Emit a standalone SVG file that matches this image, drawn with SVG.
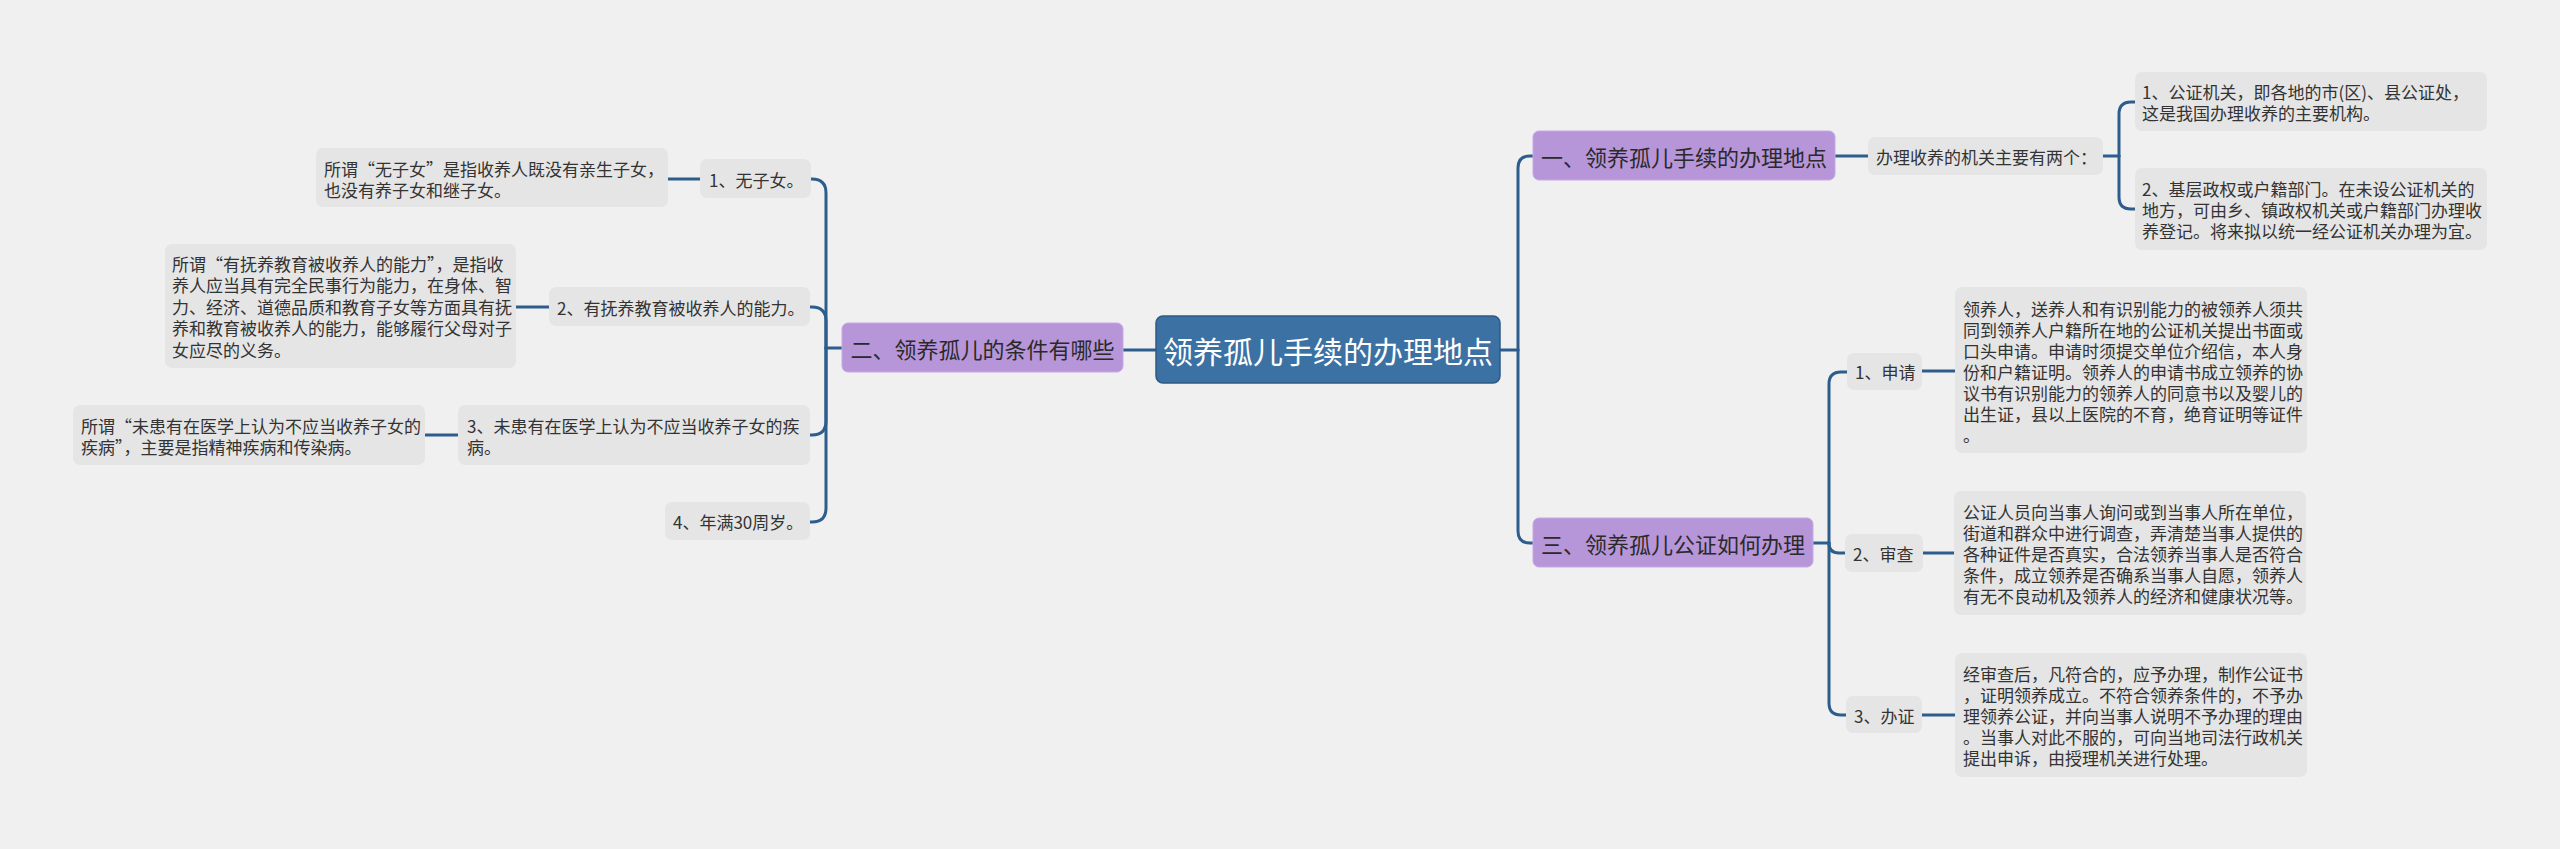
<svg xmlns="http://www.w3.org/2000/svg" width="2560" height="849" viewBox="0 0 2560 849">
<style>
.bg{fill:#f0f0f0}
.root rect{fill:#3c71a3;stroke:#2d5985;stroke-width:1.5}
.root text{fill:#ffffff;font-size:30px;text-anchor:middle}
.sec rect{fill:#b795d9;stroke:#c5a9e4;stroke-width:1}
.sec text{fill:#2a2a2a;font-size:22px;text-anchor:middle}
.leaf rect{fill:#e5e5e5}
.leaf text{fill:#333333;font-size:17px}
text{font-family:"Microsoft YaHei","Noto Sans CJK SC",sans-serif;dominant-baseline:central}
.conn path{fill:none;stroke:#2d5d8c;stroke-width:3;stroke-linecap:round}
</style>
<rect class="bg" x="0" y="0" width="2560" height="849"/>
<g class="conn">
<path d="M1156,350 H1123"/>
<path d="M1500,350 H1518"/>
<path d="M842,348 H826"/>
<path d="M826,348 V193 Q826,179 812,179 H811"/>
<path d="M826,348 V321 Q826,307 812,307 H810"/>
<path d="M826,348 V421 Q826,435 812,435 H810"/>
<path d="M826,348 V508 Q826,522 812,522 H810"/>
<path d="M668,179 H700"/>
<path d="M516,307 H549"/>
<path d="M425,435 H458"/>
<path d="M1518,350 V168 Q1518,156 1530,156 H1533"/>
<path d="M1518,350 V531 Q1518,543 1530,543 H1533"/>
<path d="M1835,156 H1868"/>
<path d="M2103,156 H2119"/>
<path d="M2119,156 V114 Q2119,102 2131,102 H2135"/>
<path d="M2119,156 V197 Q2119,209 2131,209 H2135"/>
<path d="M1813,543 H1829"/>
<path d="M1829,543 V384 Q1829,372 1841,372 H1847"/>
<path d="M1829,543 Q1829,553 1839,553 H1845"/>
<path d="M1829,543 V703 Q1829,715 1841,715 H1846"/>
<path d="M1922,371 H1955"/>
<path d="M1923,553 H1954"/>
<path d="M1922,715 H1955"/>
</g>
<g id="root" class="root">
<rect x="1156" y="316" width="344" height="67" rx="7"/>
<text x="1328" y="350">领养孤儿手续的办理地点</text>
</g>
<g id="sec2" class="sec">
<rect x="842" y="323" width="281" height="49" rx="6"/>
<text x="982.5" y="348">二、领养孤儿的条件有哪些</text>
</g>
<g id="l1" class="leaf">
<rect x="700" y="159" width="111" height="39" rx="7"/>
<text x="709" y="179">1、无子女。</text>
</g>
<g id="l1d" class="leaf">
<rect x="316" y="148" width="352" height="59" rx="7"/>
<text x="324" y="168">所谓“无子女”是指收养人既没有亲生子女，</text>
<text x="324" y="189">也没有养子女和继子女。</text>
</g>
<g id="l2" class="leaf">
<rect x="549" y="287" width="261" height="39" rx="7"/>
<text x="557" y="307">2、有抚养教育被收养人的能力。</text>
</g>
<g id="l2d" class="leaf">
<rect x="165" y="244" width="351" height="124" rx="7"/>
<text x="172" y="263">所谓“有抚养教育被收养人的能力”，是指收</text>
<text x="172" y="284.5">养人应当具有完全民事行为能力，在身体、智</text>
<text x="172" y="306">力、经济、道德品质和教育子女等方面具有抚</text>
<text x="172" y="327.5">养和教育被收养人的能力，能够履行父母对子</text>
<text x="172" y="349">女应尽的义务。</text>
</g>
<g id="l3" class="leaf">
<rect x="458" y="405" width="352" height="60" rx="7"/>
<text x="467" y="425">3、未患有在医学上认为不应当收养子女的疾</text>
<text x="467" y="446">病。</text>
</g>
<g id="l3d" class="leaf">
<rect x="73" y="405" width="352" height="60" rx="7"/>
<text x="81" y="425">所谓“未患有在医学上认为不应当收养子女的</text>
<text x="81" y="446">疾病”，主要是指精神疾病和传染病。</text>
</g>
<g id="l4" class="leaf">
<rect x="665" y="502" width="145" height="38" rx="7"/>
<text x="673" y="521">4、年满30周岁。</text>
</g>
<g id="sec1" class="sec">
<rect x="1533" y="131" width="302" height="49" rx="6"/>
<text x="1684" y="156">一、领养孤儿手续的办理地点</text>
</g>
<g id="r1" class="leaf">
<rect x="1868" y="137" width="235" height="38" rx="7"/>
<text x="1876" y="156">办理收养的机关主要有两个：</text>
</g>
<g id="r1a" class="leaf">
<rect x="2135" y="72" width="352" height="59" rx="7"/>
<text x="2142" y="91.5">1、公证机关，即各地的市(区)、县公证处，</text>
<text x="2142" y="112.5">这是我国办理收养的主要机构。</text>
</g>
<g id="r1b" class="leaf">
<rect x="2135" y="168" width="352" height="82" rx="7"/>
<text x="2142" y="188">2、基层政权或户籍部门。在未设公证机关的</text>
<text x="2142" y="209">地方，可由乡、镇政权机关或户籍部门办理收</text>
<text x="2142" y="230">养登记。将来拟以统一经公证机关办理为宜。</text>
</g>
<g id="sec3" class="sec">
<rect x="1533" y="518" width="280" height="49" rx="6"/>
<text x="1673" y="543">三、领养孤儿公证如何办理</text>
</g>
<g id="s1" class="leaf">
<rect x="1847" y="353" width="75" height="37" rx="7"/>
<text x="1855" y="371">1、申请</text>
</g>
<g id="s1d" class="leaf">
<rect x="1955" y="287" width="352" height="166" rx="7"/>
<text x="1963" y="308">领养人，送养人和有识别能力的被领养人须共</text>
<text x="1963" y="329">同到领养人户籍所在地的公证机关提出书面或</text>
<text x="1963" y="350">口头申请。申请时须提交单位介绍信，本人身</text>
<text x="1963" y="371">份和户籍证明。领养人的申请书成立领养的协</text>
<text x="1963" y="392">议书有识别能力的领养人的同意书以及婴儿的</text>
<text x="1963" y="413">出生证，县以上医院的不育，绝育证明等证件</text>
<text x="1963" y="434">。</text>
</g>
<g id="s2" class="leaf">
<rect x="1845" y="534" width="78" height="38" rx="7"/>
<text x="1853" y="553">2、审查</text>
</g>
<g id="s2d" class="leaf">
<rect x="1954" y="491" width="352" height="124" rx="7"/>
<text x="1963" y="511">公证人员向当事人询问或到当事人所在单位，</text>
<text x="1963" y="532">街道和群众中进行调查，弄清楚当事人提供的</text>
<text x="1963" y="553">各种证件是否真实，合法领养当事人是否符合</text>
<text x="1963" y="574">条件，成立领养是否确系当事人自愿，领养人</text>
<text x="1963" y="595">有无不良动机及领养人的经济和健康状况等。</text>
</g>
<g id="s3" class="leaf">
<rect x="1846" y="696" width="76" height="37" rx="7"/>
<text x="1854" y="715">3、办证</text>
</g>
<g id="s3d" class="leaf">
<rect x="1955" y="653" width="352" height="124" rx="7"/>
<text x="1963" y="673">经审查后，凡符合的，应予办理，制作公证书</text>
<text x="1963" y="694">，证明领养成立。不符合领养条件的，不予办</text>
<text x="1963" y="715">理领养公证，并向当事人说明不予办理的理由</text>
<text x="1963" y="736">。当事人对此不服的，可向当地司法行政机关</text>
<text x="1963" y="757">提出申诉，由授理机关进行处理。</text>
</g>
</svg>
